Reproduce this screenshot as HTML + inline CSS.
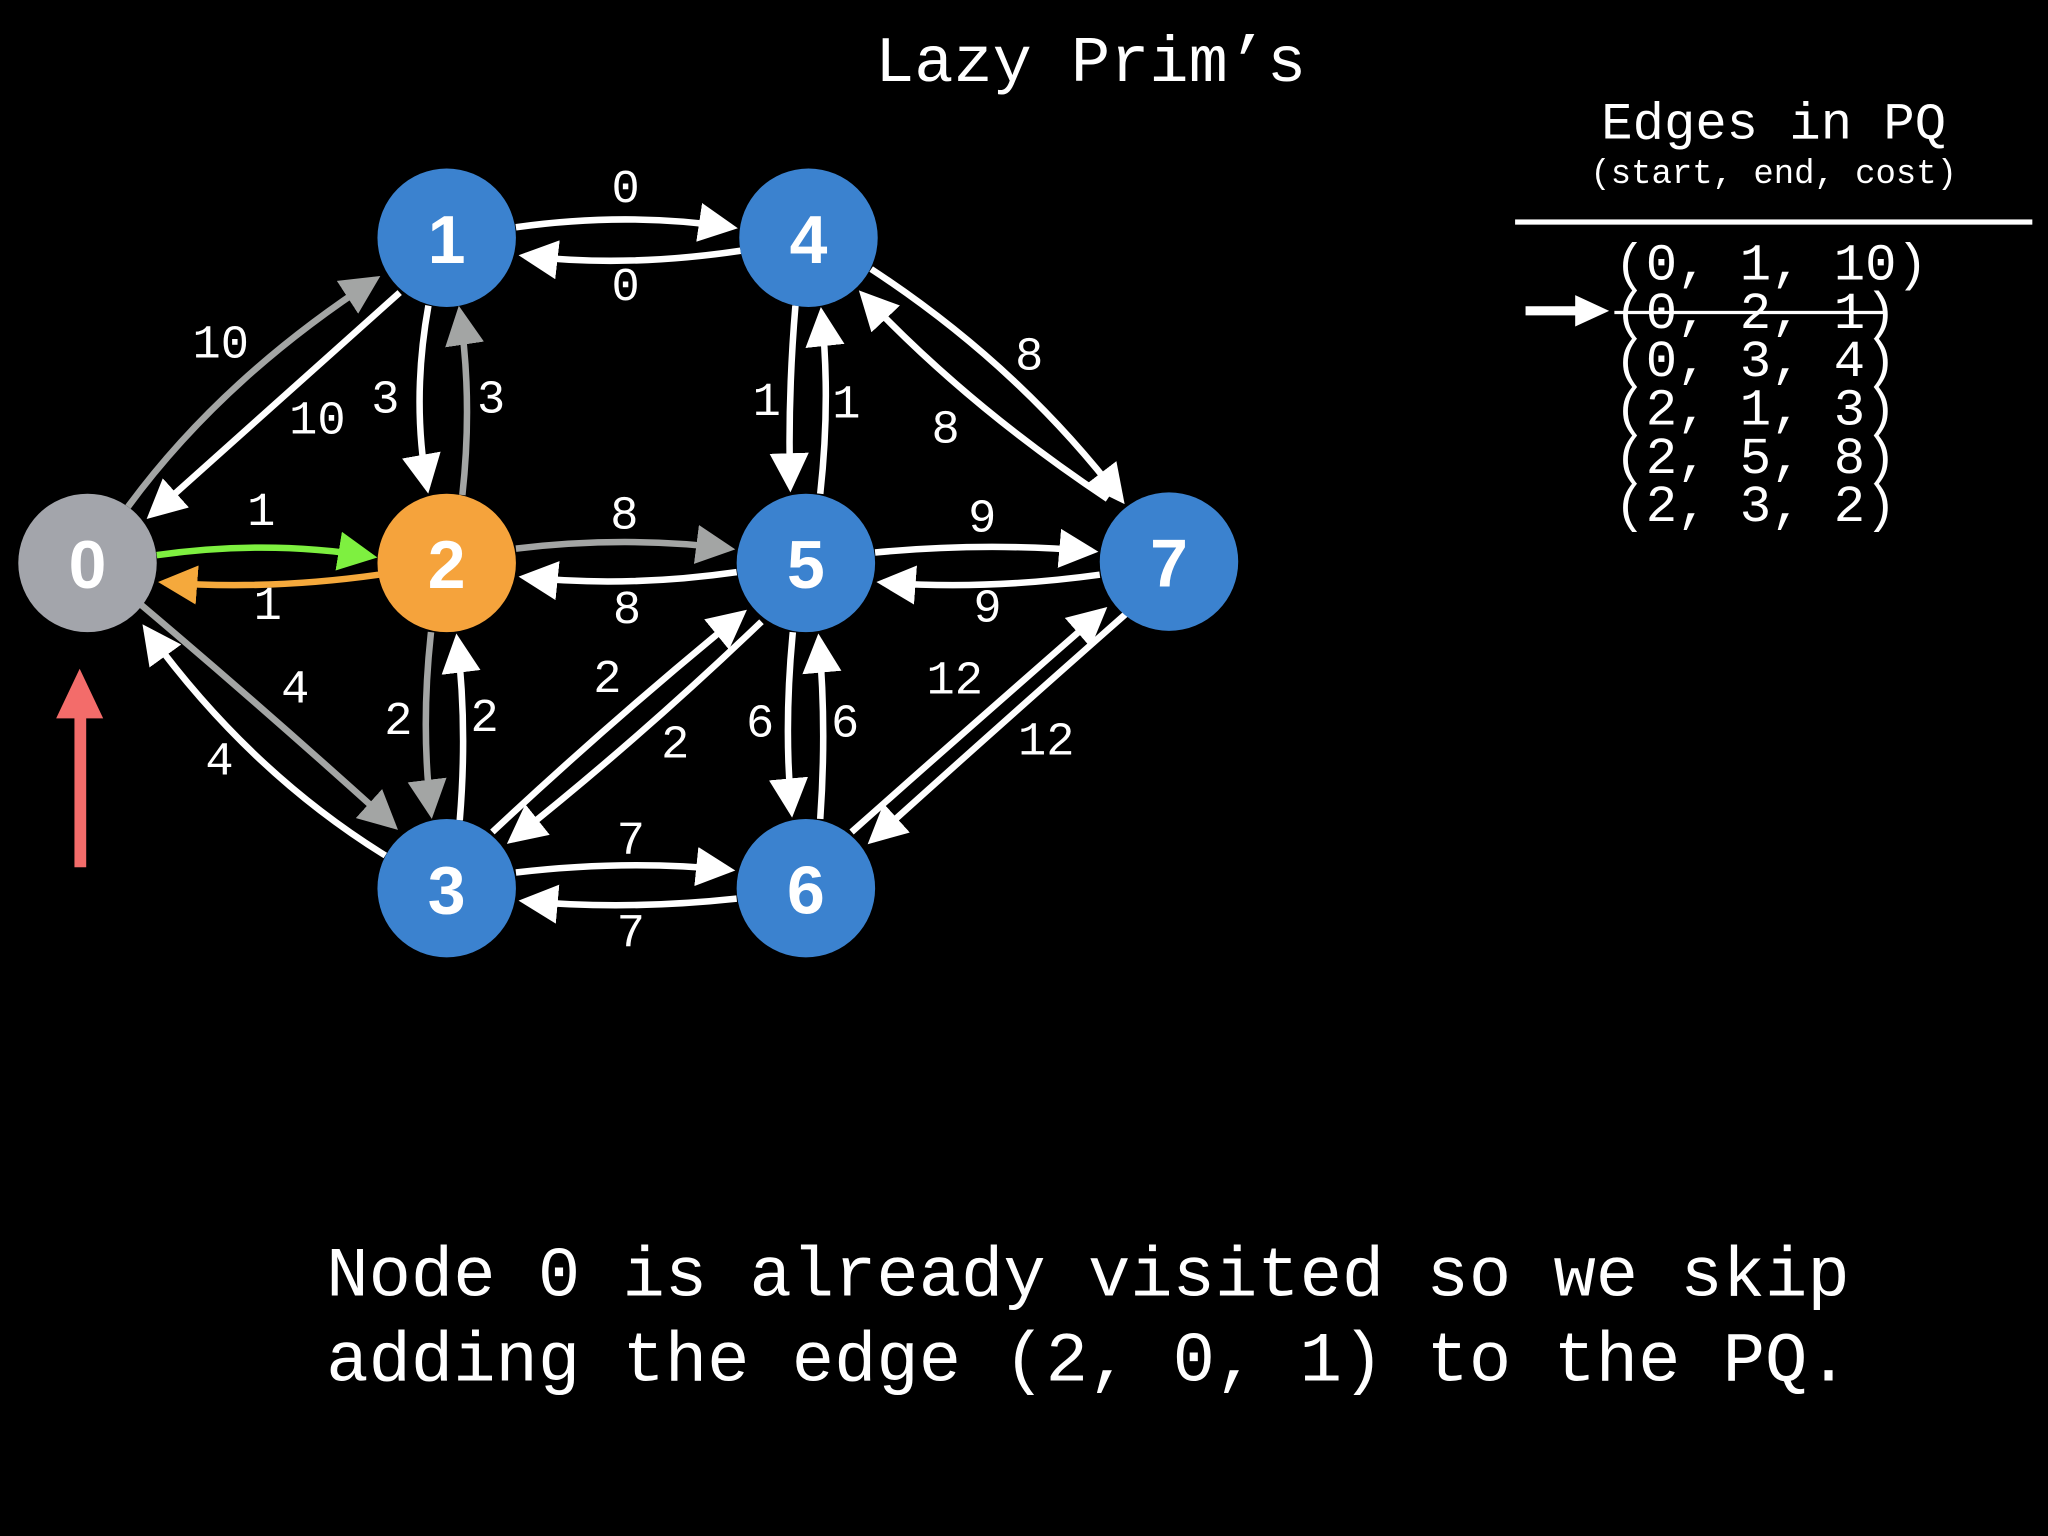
<!DOCTYPE html>
<html><head><meta charset="utf-8"><style>
html,body{margin:0;padding:0;background:#000;}
svg{display:block}
.m{font-family:"Liberation Mono",monospace;fill:#fff}
.n{font-family:"Liberation Sans",sans-serif;font-weight:bold;fill:#fff;font-size:52px;text-anchor:middle;dominant-baseline:central}
.l{font-family:"Liberation Mono",monospace;fill:#fff;font-size:36px;text-anchor:middle;dominant-baseline:central}
path.e{fill:none;stroke-width:5}
</style></head><body>
<svg width="2048" height="1536" viewBox="0 0 1568 1176" xmlns="http://www.w3.org/2000/svg">
<defs>
<marker id="aw" markerWidth="6" markerHeight="6" refX="5" refY="3" orient="auto" markerUnits="strokeWidth"><path d="M0,0 L6,3 L0,6 z" fill="#fff"/></marker>
<marker id="ag" markerWidth="6" markerHeight="6" refX="5" refY="3" orient="auto" markerUnits="strokeWidth"><path d="M0,0 L6,3 L0,6 z" fill="#a3a5a4"/></marker>
<marker id="agr" markerWidth="6" markerHeight="6" refX="5" refY="3" orient="auto" markerUnits="strokeWidth"><path d="M0,0 L6,3 L0,6 z" fill="#7ef040"/></marker>
<marker id="ao" markerWidth="6" markerHeight="6" refX="5" refY="3" orient="auto" markerUnits="strokeWidth"><path d="M0,0 L6,3 L0,6 z" fill="#f5a93c"/></marker>
</defs>
<rect width="1568" height="1176" fill="#000"/>
<text class="m" x="835" y="62" font-size="50" text-anchor="middle">Lazy Prim’s</text>
<text class="m" x="1358" y="106" font-size="40" text-anchor="middle">Edges in PQ</text>
<text class="m" x="1358" y="140" font-size="26" text-anchor="middle">(start, end, cost)</text>
<rect x="1160" y="168" width="396" height="4" fill="#fff"/>
<g class="m" font-size="40">
<text x="1236" y="214">(0, 1, 10)</text>
<text x="1236" y="251">(0, 2, 1)</text>
<text x="1236" y="288">(0, 3, 4)</text>
<text x="1236" y="325">(2, 1, 3)</text>
<text x="1236" y="362">(2, 5, 8)</text>
<text x="1236" y="399">(2, 3, 2)</text>
</g>
<rect x="1236" y="238" width="206" height="2.5" fill="#fff"/>
<path d="M1168,238 L1210,238" stroke="#fff" stroke-width="7"/>
<path d="M1206,226 L1232,238 L1206,250 z" fill="#fff"/>

<g>
<path class="e" stroke="#fff" marker-end="url(#aw)" d="M395,174 Q480,162 560,174"/>
<path class="e" stroke="#fff" marker-end="url(#aw)" d="M567,192 Q480,205 402,196"/>
<path class="e" stroke="#a3a5a4" marker-end="url(#ag)" d="M98,388 Q170,290 287,214"/>
<path class="e" stroke="#fff" marker-end="url(#aw)" d="M306,224 Q210,310 116,394"/>
<path class="e" stroke="#fff" marker-end="url(#aw)" d="M328,234 Q315,306 327,373"/>
<path class="e" stroke="#a3a5a4" marker-end="url(#ag)" d="M354,379 Q362,306 352,239"/>
<path class="e" stroke="#7ef040" marker-end="url(#agr)" d="M120,425 Q205,413 284,426"/>
<path class="e" stroke="#f5a93c" marker-end="url(#ao)" d="M290,440 Q205,452 126,446"/>
<path class="e" stroke="#a3a5a4" marker-end="url(#ag)" d="M395,420 Q480,410 558,420"/>
<path class="e" stroke="#fff" marker-end="url(#aw)" d="M564,438 Q480,450 402,442"/>
<path class="e" stroke="#a3a5a4" marker-end="url(#ag)" d="M108,463 Q205,545 301,632"/>
<path class="e" stroke="#fff" marker-end="url(#aw)" d="M295,655 Q190,590 112,482"/>
<path class="e" stroke="#a3a5a4" marker-end="url(#ag)" d="M330,484 Q322,556 330,622"/>
<path class="e" stroke="#fff" marker-end="url(#aw)" d="M352,628 Q358,556 350,490"/>
<path class="e" stroke="#fff" marker-end="url(#aw)" d="M377,637 Q470,550 568,470"/>
<path class="e" stroke="#fff" marker-end="url(#aw)" d="M583,476 Q490,565 392,643"/>
<path class="e" stroke="#fff" marker-end="url(#aw)" d="M609,234 Q603,306 605,372"/>
<path class="e" stroke="#fff" marker-end="url(#aw)" d="M628,378 Q636,306 629,240"/>
<path class="e" stroke="#fff" marker-end="url(#aw)" d="M667,206 Q780,280 858,382"/>
<path class="e" stroke="#fff" marker-end="url(#aw)" d="M848,382 Q740,310 661,226"/>
<path class="e" stroke="#fff" marker-end="url(#aw)" d="M670,423 Q755,415 836,422"/>
<path class="e" stroke="#fff" marker-end="url(#aw)" d="M842,440 Q755,452 676,446"/>
<path class="e" stroke="#fff" marker-end="url(#aw)" d="M607,484 Q600,556 606,621"/>
<path class="e" stroke="#fff" marker-end="url(#aw)" d="M628,627 Q633,556 627,490"/>
<path class="e" stroke="#fff" marker-end="url(#aw)" d="M862,470 Q760,560 668,643"/>
<path class="e" stroke="#fff" marker-end="url(#aw)" d="M652,637 Q750,550 844,468"/>
<path class="e" stroke="#fff" marker-end="url(#aw)" d="M395,668 Q480,658 558,666"/>
<path class="e" stroke="#fff" marker-end="url(#aw)" d="M564,688 Q480,697 402,690"/>
</g>

<g class="l">
<text x="479" y="146">0</text><text x="479" y="221">0</text>
<text x="169" y="265">10</text><text x="243" y="323">10</text>
<text x="295" y="307">3</text><text x="376" y="307">3</text>
<text x="200" y="393">1</text><text x="205" y="465">1</text>
<text x="478" y="396">8</text><text x="480" y="468">8</text>
<text x="226" y="529">4</text><text x="168" y="584">4</text>
<text x="305" y="553">2</text><text x="371" y="551">2</text>
<text x="465" y="521">2</text><text x="517" y="571">2</text>
<text x="587" y="309">1</text><text x="648" y="311">1</text>
<text x="788" y="274">8</text><text x="724" y="330">8</text>
<text x="752" y="398">9</text><text x="756" y="467">9</text>
<text x="582" y="555">6</text><text x="647" y="555">6</text>
<text x="731" y="522">12</text><text x="801" y="569">12</text>
<text x="483" y="645">7</text><text x="483" y="716">7</text>
</g>

<circle cx="67" cy="431" r="53" fill="#a3a5ab"/>
<circle cx="342" cy="182" r="53" fill="#3b82cf"/>
<circle cx="342" cy="431" r="53" fill="#f5a33c"/>
<circle cx="342" cy="680" r="53" fill="#3b82cf"/>
<circle cx="619" cy="182" r="53" fill="#3b82cf"/>
<circle cx="617" cy="431" r="53" fill="#3b82cf"/>
<circle cx="617" cy="680" r="53" fill="#3b82cf"/>
<circle cx="895" cy="430" r="53" fill="#3b82cf"/>
<text class="n" x="67" y="433">0</text>
<text class="n" x="342" y="184">1</text>
<text class="n" x="342" y="433">2</text>
<text class="n" x="342" y="682">3</text>
<text class="n" x="619" y="184">4</text>
<text class="n" x="617" y="433">5</text>
<text class="n" x="617" y="682">6</text>
<text class="n" x="895" y="432">7</text>

<rect x="57" y="540" width="9" height="124" fill="#f36c6a"/>
<path d="M43,550 L61,512 L79,550 z" fill="#f36c6a"/>

<text class="m" x="833" y="992" font-size="54" text-anchor="middle">Node 0 is already visited so we skip</text>
<text class="m" x="833" y="1057" font-size="54" text-anchor="middle">adding the edge (2, 0, 1) to the PQ.</text>
</svg>
</body></html>
